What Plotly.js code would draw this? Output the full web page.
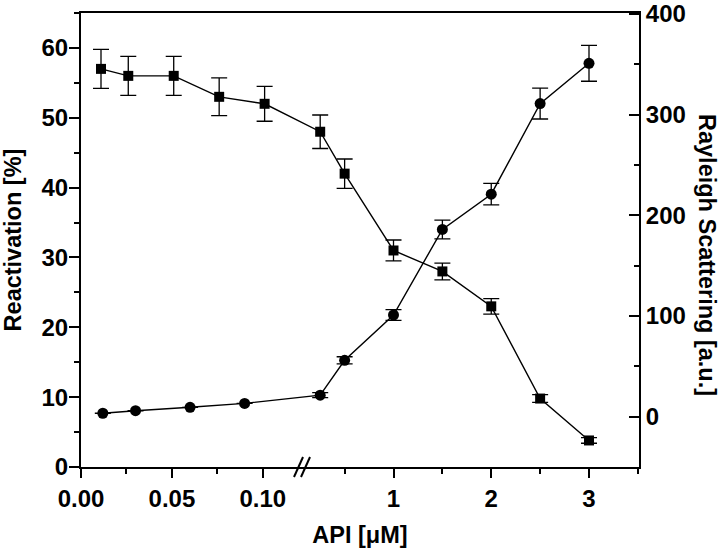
<!DOCTYPE html>
<html>
<head>
<meta charset="utf-8">
<script src="https://cdn.plot.ly/plotly-3.0.1.min.js"></script>
<style>html,body{margin:0;padding:0;background:#fff;}#chart{width:720px;height:548px;}</style>
</head>
<body>
<div id="chart"></div>
<script>
// ---- data ----
const reactX   = [0.011, 0.026, 0.051, 0.076, 0.101, 0.25, 0.5, 1, 1.5, 2, 2.5, 3];
const reactY   = [57, 56, 56, 53, 52, 48, 42, 31, 28, 23, 9.8, 3.8];
const reactErr = [2.8, 2.8, 2.8, 2.7, 2.5, 2.4, 2.1, 1.5, 1.2, 1.1, 0.55, 0.4];

const scatX    = [0.012, 0.030, 0.060, 0.090, 0.25, 0.5, 1, 1.5, 2, 2.5, 3];
const scatY    = [3.4, 5.9, 9.3, 13.2, 21.4, 56, 101, 186, 221, 311, 351];
const scatErr  = [0, 0, 0, 0, 2.5, 3.5, 5.4, 9.3, 10.7, 15.3, 17.8];

const xMajorVals   = [0, 0.05, 0.10, 1, 2, 3];
const xMajorLabels = ['0.00', '0.05', '0.10', '1', '2', '3'];
const xMinorVals   = [0.025, 0.075, 0.5, 1.5, 2.5, 3.5];
const yLeftTicks   = [0, 10, 20, 30, 40, 50, 60];
const yRightTicks  = [0, 100, 200, 300, 400];

// ---- broken x scale: linear low segment, then linear high segment ----
const BREAK_X = 0.2;        // values below are in the low segment
const LOW_SCALE = 1818;     // display units per µM (low segment)
const HIGH_AT_ONE = 312.5;  // display position of 1 µM
const HIGH_SCALE = 97.75;   // display units per µM (high segment)
const BREAK_U = 222;        // display position of the break
const X_RANGE = [0, 558];
function u(x) { return x < BREAK_X ? x * LOW_SCALE : HIGH_AT_ONE + (x - 1) * HIGH_SCALE; }

const FONT = 'Liberation Sans, Arial, Helvetica, sans-serif';
const TICKFONT = {family: FONT, size: 24, weight: 'bold', color: '#000'};
const TITLEFONT = {family: FONT, size: 23.5, weight: 'bold', color: '#000'};

const traces = [
  {
    x: reactX.map(u), y: reactY, yaxis: 'y', type: 'scatter', mode: 'lines+markers',
    line: {color: '#000', width: 1.4},
    marker: {symbol: 'square', size: 10, color: '#000'},
    error_y: {type: 'data', array: reactErr, visible: true, color: '#000', thickness: 1.3, width: 8},
    cliponaxis: false, showlegend: false
  },
  {
    x: scatX.map(u), y: scatY, yaxis: 'y2', type: 'scatter', mode: 'lines+markers',
    line: {color: '#000', width: 1.4},
    marker: {symbol: 'circle', size: 11, color: '#000'},
    error_y: {type: 'data', array: scatErr, visible: true, color: '#000', thickness: 1.3, width: 8},
    cliponaxis: false, showlegend: false
  }
];

const M = {l: 81, r: 81, t: 13, b: 81};
const W = 720 - M.l - M.r;
const H = 548 - M.t - M.b;
const bx = BREAK_U / (X_RANGE[1] - X_RANGE[0]);
const slashDx = 9 / W, slashGap = 7 / W;

const layout = {
  width: 720, height: 548,
  margin: M,
  paper_bgcolor: '#fff', plot_bgcolor: '#fff',
  font: {family: FONT, color: '#000', size: 24, weight: 'bold'},
  showlegend: false,
  xaxis: {
    range: X_RANGE, showgrid: false, zeroline: false,
    showline: true, linecolor: '#000', linewidth: 2, mirror: true,
    tickmode: 'array', tickvals: xMajorVals.map(u), ticktext: xMajorLabels,
    ticks: 'outside', ticklen: 9, tickwidth: 2, tickcolor: '#000',
    minor: {tickvals: xMinorVals.map(u), ticks: 'outside', ticklen: 5, tickwidth: 2, tickcolor: '#000', showgrid: false},
    tickfont: TICKFONT,
    title: {text: 'API [μM]', font: TITLEFONT, standoff: 18}
  },
  yaxis: {
    range: [0, 65], showgrid: false, zeroline: false,
    showline: true, linecolor: '#000', linewidth: 2,
    tickmode: 'array', tickvals: yLeftTicks,
    ticks: 'outside', ticklen: 10, tickwidth: 2, tickcolor: '#000',
    ticklabelstandoff: -4,
    minor: {tick0: 0, dtick: 5, ticks: 'outside', ticklen: 5, tickwidth: 2, tickcolor: '#000', showgrid: false},
    tickfont: TICKFONT,
    title: {text: 'Reactivation [%]', font: TITLEFONT, standoff: 14}
  },
  yaxis2: {
    range: [-50, 401], overlaying: 'y', side: 'right', showgrid: false, zeroline: false,
    showline: true, linecolor: '#000', linewidth: 2,
    tickmode: 'array', tickvals: yRightTicks,
    ticks: 'inside', ticklen: 10, tickwidth: 2, tickcolor: '#000',
    ticklabeloverflow: 'allow',
    minor: {tick0: 0, dtick: 50, ticks: 'inside', ticklen: 5, tickwidth: 2, tickcolor: '#000', showgrid: false},
    tickfont: TICKFONT
  },
  annotations: [
    {text: 'Rayleigh Scattering [a.u.]', xref: 'paper', yref: 'paper',
     x: (707 - M.l) / W, y: (548 - M.b - 255) / H, xanchor: 'center', yanchor: 'middle',
     textangle: 90, showarrow: false, font: TITLEFONT}
  ],
  shapes: [
    {type: 'line', xref: 'paper', yref: 'paper', x0: bx - slashDx, x1: bx, y0: -10 / H, y1: 10 / H, line: {color: '#000', width: 2}},
    {type: 'line', xref: 'paper', yref: 'paper', x0: bx - slashDx + slashGap, x1: bx + slashGap, y0: -10 / H, y1: 10 / H, line: {color: '#000', width: 2}}
  ]
};

Plotly.newPlot('chart', traces, layout, {staticPlot: true, displayModeBar: false});
</script>
</body>
</html>
